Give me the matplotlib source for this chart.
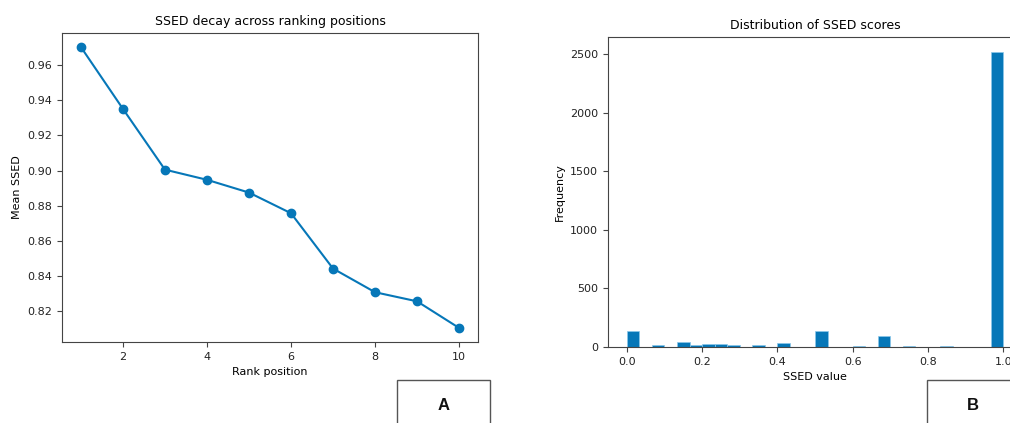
import numpy as np
import matplotlib
matplotlib.use("Agg")
import matplotlib.pyplot as plt
from matplotlib.patches import Rectangle

# panel A: mean SSED per rank position
rank_pos = [1, 2, 3, 4, 5, 6, 7, 8, 9, 10]
mean_ssed = [0.9705, 0.9352, 0.9005, 0.8947, 0.8874, 0.8756, 0.8440, 0.8305, 0.8253, 0.8101]

# panel B: histogram counts, 30 bins over [0, 1]
bin_edges = np.linspace(0, 1, 31)
bin_counts = [135, 0, 20, 0, 42, 20, 27, 22, 14, 0,
              20, 0, 36, 0, 0, 137, 0, 0, 8, 0,
              90, 0, 5, 0, 0, 5, 0, 0, 0, 2522]

blue = "#0677b8"
plt.rcParams['font.family'] = ['DejaVu Sans']
plt.rcParams['axes.edgecolor'] = '#444444'
plt.rcParams['xtick.color'] = '#444444'
plt.rcParams['ytick.color'] = '#444444'
plt.rcParams['xtick.labelcolor'] = '#222222'
plt.rcParams['ytick.labelcolor'] = '#222222'

W, H = 1010, 423
fig = plt.figure(figsize=(W / 100, H / 100), dpi=100)

def px_axes(x0, x1, y0, y1):
    return fig.add_axes([x0 / W, 1 - y1 / H, (x1 - x0) / W, (y1 - y0) / H])

# left panel
ax1 = px_axes(62, 478, 33, 342)
ax1.plot(rank_pos, mean_ssed, marker='o', color=blue, lw=1.5, ms=6)
ax1.set_title("SSED decay across ranking positions", fontsize=9)
ax1.set_xlabel("Rank position", fontsize=8)
ax1.set_ylabel("Mean SSED", fontsize=8)
ax1.tick_params(labelsize=8)

# right panel (extends past the right edge, as in the original crop)
ax2 = px_axes(608, 1022, 37, 347)
ax2.bar(bin_edges[:-1], bin_counts, width=np.diff(bin_edges), align='edge',
        color=blue, edgecolor='#8cc8ea', linewidth=0.5)
ax2.set_xlim(-0.05, 1.05)
ax2.set_ylim(0, 2522 * 1.05)
ax2.set_title("Distribution of SSED scores", fontsize=9)
ax2.set_xlabel("SSED value", fontsize=8)
ax2.set_ylabel("Frequency", fontsize=8)
ax2.tick_params(labelsize=8)

# A / B label boxes
for x0, x1, lab in [(397, 490, "A"), (927, 1015, "B")]:
    fig.patches.append(Rectangle((x0 / W, -0.01), (x1 - x0) / W, (H - 380) / H + 0.01,
                                 transform=fig.transFigure, fill=False,
                                 edgecolor='#555555', lw=1))
    fig.text((x0 + x1) / 2 / W if lab == "A" else 973 / W, 1 - 405 / H, lab,
             ha='center', va='center', fontsize=12, fontweight='bold',
             family=['Liberation Sans'], color='#111111')

fig.savefig("out.png", dpi=100)
